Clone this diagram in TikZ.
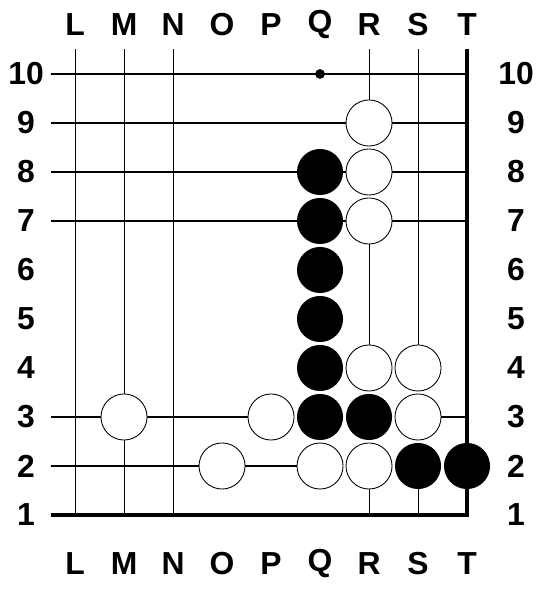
\documentclass[tikz,border=0pt]{standalone}
\usepackage{fontspec}
\setmainfont{Liberation Sans}
\usepackage{tikz}
\usetikzlibrary{positioning}
\tikzset{
  gridline/.style={line width=0.6pt, color=black},
  edgeline/.style={line width=2pt, color=black},
  stonebase/.style={circle, inner sep=0pt, minimum size=0.94cm},
  wstone/.style={stonebase, draw=black, line width=0.5pt, fill=white},
  bstone/.style={stonebase, fill=black},
  hoshi/.style={circle, inner sep=0pt, minimum size=0.2cm, fill=black},
  coordlabel/.style={font=\bfseries\fontsize{18.5}{21}\selectfont, inner sep=0pt}
}
\begin{document}
\begin{tikzpicture}[x=1cm, y=1cm]
  \useasboundingbox (-0.531,-0.551) rectangle (10.531,11.51);

  % ── Coordinates ──
  \foreach \c [count=\i] in {L,M,N,O,P,Q,R,S,T} {
    \node[coordlabel] (top\c) at (\i,11) {\c};
    \node[coordlabel] (bot\c) at (\i,0) {\c};
  }
  \foreach \r in {1,...,10} {
    \node[coordlabel] (left\r) at (0,\r) {\r};
    \node[coordlabel] (right\r) at (10,\r) {\r};
  }

  % ── Grid ──
  \foreach \r in {7,8,9,10}
    \draw[gridline] (0.5,\r) -- (9,\r);
  \draw[gridline] (0.5,3) -- (5,3);
  \draw[gridline] (8,3) -- (9,3);
  \draw[gridline] (0.5,2) -- (6,2);
  \foreach \i in {1,2,3}
    \draw[gridline] (\i,10.5) -- (\i,1);
  \draw[gridline] (7,10.5) -- (7,9);
  \draw[gridline] (7,7) -- (7,4);
  \draw[gridline] (7,2) -- (7,1);
  \draw[gridline] (8,10.5) -- (8,4);
  \draw[gridline] (8,2) -- (8,1);

  % ── Board edges ──
  \draw[edgeline] (0.5,1) -- (9,1) -- (9,10.5);

  % ── Stones ──
  \node[hoshi] (q10) at (6,10) {};
  \foreach \p/\q in {7/9, 7/8, 7/7, 7/4, 8/4, 2/3, 5/3, 8/3, 4/2, 6/2, 7/2}
    \node[wstone] (w\p-\q) at (\p,\q) {};
  \foreach \p/\q in {6/8, 6/7, 6/6, 6/5, 6/4, 6/3, 7/3, 8/2, 9/2}
    \node[bstone] (b\p-\q) at (\p,\q) {};

\end{tikzpicture}
\end{document}
